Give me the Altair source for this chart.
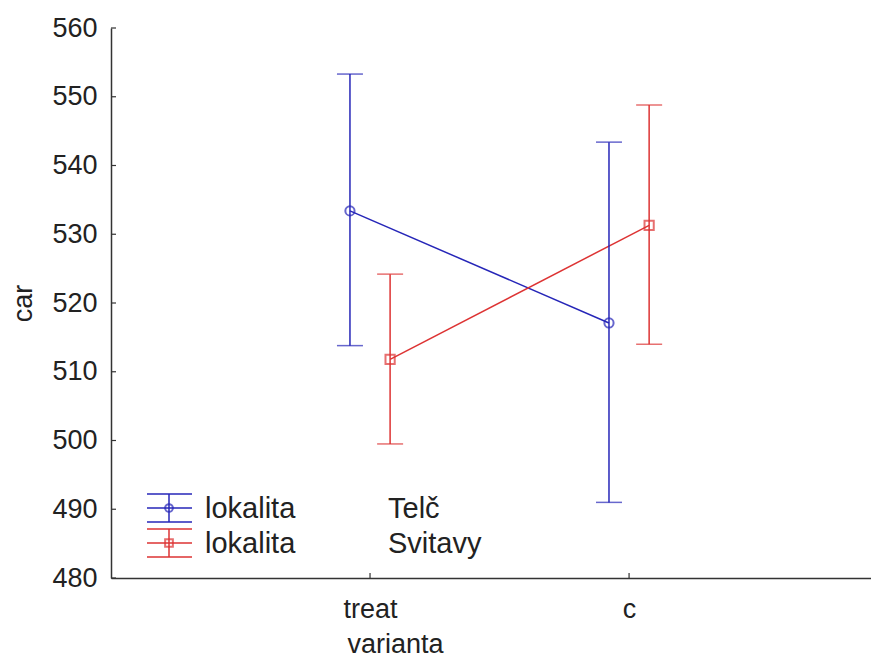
import altair as alt
import pandas as pd

# ---- data ----
categories = ["treat", "c"]
series = ["Telč", "Svitavy"]
colors = ["#2626b8", "#dd3333"]
shapes = ["circle", "square"]

telc_mean = [533.4, 517.1]
telc_low = [513.8, 491.0]
telc_high = [553.3, 543.4]

svit_mean = [511.8, 531.3]
svit_low = [499.5, 514.0]
svit_high = [524.2, 548.8]

y_ticks = [480, 490, 500, 510, 520, 530, 540, 550, 560]

rows = []
for name, m, lo, hi in [("Telč", telc_mean, telc_low, telc_high),
                        ("Svitavy", svit_mean, svit_low, svit_high)]:
    for c, mv, lv, hv in zip(categories, m, lo, hi):
        rows.append({"varianta": c, "lokalita": name, "car": mv, "low": lv, "high": hv})
df = pd.DataFrame(rows)

W, H = 760, 550
FONT = "Liberation Sans"
FS = 27
DODGE = 0.0775

label_expr = "datum.value == 1 ? '%s' : (datum.value == 2 ? '%s' : '')" % (categories[0], categories[1])

xscale = alt.Scale(domain=[0, 2.934], nice=False, zero=False)
yscale = alt.Scale(domain=[480, 560], nice=False, zero=False)
cscale = alt.Scale(domain=series, range=colors)

x_enc = alt.X("xpos:Q", scale=xscale,
              axis=alt.Axis(title="varianta", values=[1, 2], labelExpr=label_expr,
                            labelPadding=18, labelFlush=False,
                            titleX=284, titleY=66, titleBaseline="middle",
                            titleAlign="center"))
y_enc = alt.Y("car:Q", scale=yscale,
              axis=alt.Axis(values=y_ticks, title="car", labelPadding=14,
                            titleX=-88, titleY=H / 2, titleAngle=270,
                            titleAlign="center", titleBaseline="middle"))
color_enc = alt.Color("lokalita:N", scale=cscale, legend=None)

cat_index = "indexof(%s, datum.varianta) + 1" % str(categories).replace("'", '"')
dodge_expr = "(datum.lokalita == '%s' ? -%f : %f)" % (series[0], DODGE, DODGE)

base = alt.Chart(df).transform_calculate(
    xpos=cat_index + " + " + dodge_expr
)

lines = base.mark_line(strokeWidth=1.5).encode(
    x=x_enc, y=y_enc, color=color_enc, detail="lokalita:N")

bars = base.mark_rule(strokeWidth=1.5).encode(
    x=x_enc, y=alt.Y("low:Q", scale=yscale), y2="high:Q", color=color_enc)

cap_lo = base.mark_tick(orient="horizontal", size=26, thickness=1.5).encode(
    x=x_enc, y=alt.Y("low:Q", scale=yscale), color=color_enc)
cap_hi = base.mark_tick(orient="horizontal", size=26, thickness=1.5).encode(
    x=x_enc, y=alt.Y("high:Q", scale=yscale), color=color_enc)

points = base.mark_point(filled=False, size=85, strokeWidth=2).encode(
    x=x_enc, y=y_enc, color=color_enc,
    shape=alt.Shape("lokalita:N", scale=alt.Scale(domain=series, range=shapes), legend=None))

# inward ticks
ytick_df = pd.DataFrame({"car": y_ticks})
yticks = alt.Chart(ytick_df).mark_rule(color="#333333", strokeWidth=1.2).encode(
    y=alt.Y("car:Q", scale=yscale), x=alt.value(0), x2=alt.value(5))
xtick_df = pd.DataFrame({"varianta": categories})
xticks = alt.Chart(xtick_df).transform_calculate(xpos=cat_index).mark_rule(
    color="#333333", strokeWidth=1.2).encode(
    x=alt.X("xpos:Q", scale=xscale), y=alt.value(H), y2=alt.value(H - 5))

# legend (manual, inside plot bottom-left)
LFS = 29
legend_layers = []
for i, (name, col, shp) in enumerate(zip(series, colors, shapes)):
    yc = 480 + 35 * i
    d = pd.DataFrame({"lokalita": [name]})
    lb = alt.Chart(d)
    for dy in (-14, 0, 14):
        legend_layers.append(lb.mark_rule(color=col, strokeWidth=1.5).encode(
            x=alt.value(36), x2=alt.value(81), y=alt.value(yc + dy)))
    legend_layers.append(lb.mark_rule(color=col, strokeWidth=1.5).encode(
        x=alt.value(58), y=alt.value(yc - 14), y2=alt.value(yc + 14)))
    legend_layers.append(lb.mark_point(shape=shp, filled=False, size=60, strokeWidth=2, color=col).encode(
        x=alt.value(58), y=alt.value(yc)))
    legend_layers.append(lb.mark_text(align="left", baseline="middle", font=FONT, fontSize=LFS,
                                      color="#222222").encode(
        x=alt.value(94), y=alt.value(yc + 1), text=alt.value("lokalita")))
    legend_layers.append(lb.mark_text(align="left", baseline="middle", font=FONT, fontSize=LFS,
                                      color="#222222").encode(
        x=alt.value(277), y=alt.value(yc + 1), text="lokalita:N"))

chart = alt.layer(lines, bars, cap_lo, cap_hi, points, yticks, xticks, *legend_layers).properties(
    width=W, height=H,
    autosize=alt.AutoSizeParams(type="none"),
    padding={"left": 103, "top": 20, "right": 0, "bottom": 80},
    background="white",
).configure_view(stroke=None).configure_axis(
    grid=False, ticks=False, domainColor="#333333", domainWidth=1.5,
    labelFont=FONT, labelFontSize=FS, labelColor="#222222",
    titleFont=FONT, titleFontSize=FS, titleColor="#222222", titleFontWeight="normal",
)

chart.save("out.html", embed_options={"renderer": "svg", "actions": False})
